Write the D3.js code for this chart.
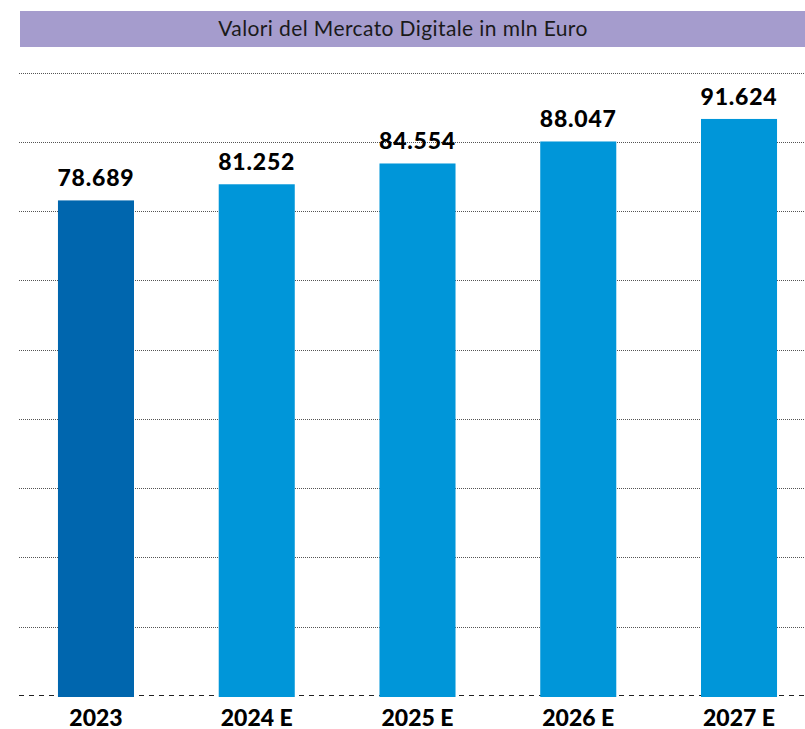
<!DOCTYPE html>
<html>
<head>
<meta charset="utf-8">
<script src="https://cdn.jsdelivr.net/npm/d3@7"></script>
<style>
  body { margin: 0; background: #fff; }
  .title { font-family: "Lato", "Open Sans", sans-serif; font-size: 21px; letter-spacing: 0.4px; fill: #1a1a1a; }
  .value { font-family: "Lato", "Roboto", sans-serif; font-weight: 900; font-size: 23px; letter-spacing: 0.8px; fill: #000; }
  .cat { font-family: "Lato", "Roboto", sans-serif; font-weight: 900; font-size: 23px; fill: #000; }
</style>
</head>
<body>
<svg id="chart" width="805" height="729"></svg>
<script>
const categories = ["2023", "2024 E", "2025 E", "2026 E", "2027 E"];
const values = [78689, 81252, 84554, 88047, 91624];
const barColors = ["#0066ae", "#0096d9", "#0096d9", "#0096d9", "#0096d9"];
const gridTicks = [0, 11000, 22000, 33000, 44000, 55000, 66000, 77000, 88000, 99000];
const titleText = "Valori del Mercato Digitale in mln Euro";

const svg = d3.select("#chart");
const width = +svg.attr("width");
const MARGIN = { top: 72.5, bottom: 696, left: 19, right: 805 };

const x = d3.scaleBand()
  .domain(categories)
  .range([15.6, 819.4])
  .paddingInner(0.527)
  .paddingOuter(0.2635);

const y = d3.scaleLinear([0, 99000], [MARGIN.bottom, MARGIN.top]);

// title band
svg.append("rect")
  .attr("x", 20).attr("y", 11)
  .attr("width", width - 20).attr("height", 36)
  .attr("fill", "#a59ccd");
svg.append("text")
  .attr("class", "title")
  .attr("x", 403).attr("y", 36)
  .attr("text-anchor", "middle")
  .text(titleText);

// gridlines
svg.append("g")
  .selectAll("line")
  .data(gridTicks.slice(1))
  .join("line")
  .attr("x1", MARGIN.left).attr("x2", MARGIN.right)
  .attr("y1", (d) => Math.round(y(d)) + 0.5)
  .attr("y2", (d) => Math.round(y(d)) + 0.5)
  .attr("stroke", "#555")
  .attr("stroke-width", 1)
  .attr("stroke-dasharray", "1,1");

// baseline
svg.append("line")
  .attr("x1", MARGIN.left).attr("x2", MARGIN.right)
  .attr("y1", y(0) - 0.5).attr("y2", y(0) - 0.5)
  .attr("stroke", "#222")
  .attr("stroke-width", 1.2)
  .attr("stroke-dasharray", "5,5");

// bars
svg.append("g")
  .selectAll("rect")
  .data(values)
  .join("rect")
  .attr("x", (d, i) => x(categories[i]))
  .attr("width", x.bandwidth())
  .attr("y", (d) => y(d))
  .attr("height", (d) => y(0) - y(d) + 1)
  .attr("fill", (d, i) => barColors[i]);

// value labels
svg.append("g")
  .selectAll("text")
  .data(values)
  .join("text")
  .attr("class", "value")
  .attr("text-anchor", "middle")
  .attr("x", (d, i) => x(categories[i]) + x.bandwidth() / 2)
  .attr("y", (d) => y(d) - 14)
  .text((d) => d3.format(",d")(d).replace(/,/g, "."));

// category labels
const xAxis = d3.axisBottom(x).tickSize(0).tickPadding(0);
svg.append("g")
  .attr("transform", `translate(0,${y(0)})`)
  .call(xAxis)
  .call((g) => g.select(".domain").remove())
  .call((g) => g.selectAll("text")
    .attr("class", "cat")
    .attr("dy", null)
    .attr("y", 30)
    .attr("fill", null));
</script>
</body>
</html>
